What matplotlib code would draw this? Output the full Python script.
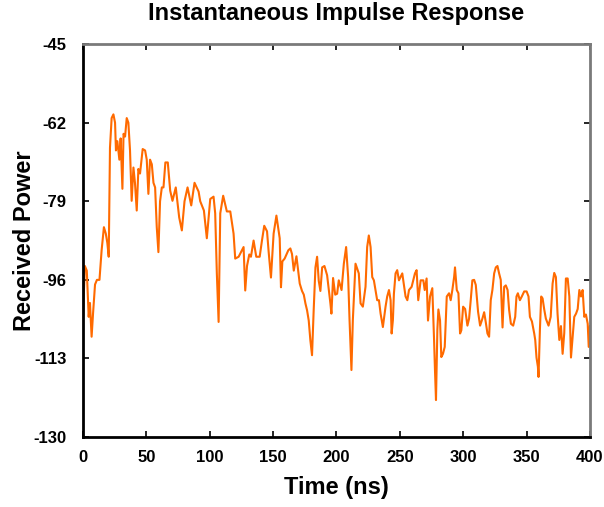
import matplotlib
matplotlib.use("Agg")
import matplotlib.pyplot as plt

plt.rcParams['font.family'] = ['Liberation Sans', 'DejaVu Sans']
plt.rcParams['axes.unicode_minus'] = False

title = "Instantaneous Impulse Response"
x_label = "Time (ns)"
y_label = "Received Power"
x_ticks = [0, 50, 100, 150, 200, 250, 300, 350, 400]
y_ticks = [-130, -113, -96, -79, -62, -45]

time_ns = [
    0, 1.5, 3, 4.5, 5.5, 6.8, 8, 9.5, 11, 13,
    14.7, 16.5, 18, 19.2, 20.3, 21.3, 22.6, 24, 25.3, 26,
    27.1, 28.7, 29.7, 31.1, 32, 33.2, 34.5, 35.8, 37.1, 38.4,
    39.8, 41, 42.4, 43.7, 45, 47.1, 49, 50.3, 51.6, 52.9,
    54.3, 55.6, 56.9, 58.2, 59.5, 60.8, 62.2, 63.5, 65, 66.9,
    68.8, 70.6, 73.2, 75.9, 78, 80.1, 82.5, 85.4, 88, 91.2,
    92.5, 95.4, 97.7, 100.4, 103, 104.3, 105.6, 107, 108.3, 110.6,
    113.5, 116.2, 118.8, 120.1, 122.8, 126.7, 128, 129.4, 131.2, 132.5,
    134.6, 136.7, 139.4, 141.2, 143, 145.2, 146.5, 148.3, 150.4, 152.6,
    155.2, 156.2, 157.3, 159.1, 162, 163.6, 164.9, 166.3, 168.4, 171,
    172.8, 174.2, 175.5, 176.8, 178.1, 179.4, 180.7, 182, 183.4, 184.7,
    186, 187.3, 188.7, 190.5, 192.6, 195.2, 196, 197.3, 199, 200.5,
    201.8, 204, 205.8, 207.6, 209.2, 210.3, 211.8, 212.9, 215, 217.6,
    219, 220.8, 222.9, 224.2, 225.5, 226.9, 228.2, 229.5, 230.8, 232.1,
    233.5, 234.8, 236.6, 238.7, 240, 241.4, 242.7, 243.5, 244.5, 245.3,
    246.6, 247.9, 249.3, 251.9, 254.5, 255.9, 257.2, 259.3, 261.9, 263.2,
    264.5, 266.4, 268.5, 269.6, 271.1, 272.2, 273.8, 275.6, 277, 277.7,
    278.5, 279.6, 280.4, 281.7, 282.7, 284, 285.4, 287, 288.8, 290.1,
    291.4, 292.8, 293.5, 294.9, 296.2, 297.5, 298.5, 299.9, 301.5, 303.3,
    304.6, 305.9, 307.2, 308.6, 309.9, 311.7, 313.3, 315.1, 316.5, 317.8,
    319.1, 320.4, 321.7, 323, 324.4, 325.7, 327, 328.3, 329.6, 331,
    332.3, 333.6, 335, 336.2, 337.6, 339.4, 341, 342, 343.1, 344.7,
    346.2, 348.1, 350, 351.5, 352.6, 354.2, 356, 356.8, 357.8, 358.9,
    359.4, 360.5, 361.5, 362.6, 363.9, 365.2, 367.3, 369, 370.5, 371.8,
    373.1, 374.4, 375.8, 377.1, 378.4, 379.7, 381, 382.4, 383.7, 385,
    386.3, 387.6, 389, 390.3, 391.6, 392.9, 394.2, 395.5, 396.8, 398.2,
    399, 400,
]

power = [
    -104, -93, -94, -104, -101, -108.3, -103, -97, -96, -96,
    -89.6, -84.6, -86, -88, -91, -67.4, -61, -60.2, -62, -68,
    -66, -70, -65.4, -76.3, -64.4, -65, -61, -62, -68, -78.9,
    -71.7, -75, -81, -72, -73, -67.7, -68, -70, -77.4, -70,
    -71, -75, -76, -84.6, -90, -79, -76, -76, -70.6, -70.6,
    -76.7, -78.9, -76, -82.5, -85.3, -79, -76, -79.9, -75, -76.9,
    -79, -81, -87, -78.5, -78, -81.6, -94.6, -105.1, -81.6, -77.8,
    -81.2, -81.2, -86, -91.4, -91, -88.9, -98.3, -93, -90.5, -91,
    -87.5, -91, -91, -87.5, -84.3, -85.5, -90, -95.5, -86, -82.1,
    -87, -97.6, -92, -91.4, -89.6, -89.2, -90.4, -94, -90.9, -96.8,
    -98.4, -99.2, -101.1, -102.6, -104.8, -109.1, -112.3, -102.6, -93.3, -91,
    -96.2, -98.4, -93.3, -93, -95, -101.1, -103.3, -95.6, -99.2, -99,
    -96.1, -98.2, -92.5, -88.9, -95.4, -104.7, -115.5, -104.7, -92.5, -94.6,
    -101.1, -101.8, -97.5, -88.9, -86.4, -88.9, -95.4, -96.1, -98.2, -100.4,
    -100.4, -103.3, -106.2, -101.8, -99.6, -98.2, -100.4, -107.6, -104.7, -99,
    -94.6, -93.9, -96.1, -94.6, -99.6, -100.4, -98.2, -97.5, -94.6, -93.9,
    -100.4, -96.1, -96.1, -98.2, -95.7, -104.8, -99.6, -97.8, -109.1, -115.5,
    -122, -106.7, -102.4, -104.8, -112.7, -112, -110.5, -99.6, -98.9, -100.4,
    -98.2, -95.4, -93.3, -98.2, -98.9, -107.6, -106.9, -101.8, -102.3, -105.9,
    -104.4, -100.4, -96.1, -96, -97.1, -102.9, -105.9, -104.4, -103, -105.2,
    -107.6, -108.3, -100.4, -98.2, -94.6, -93.3, -93, -94.6, -96, -106.3,
    -97.5, -97.2, -98.2, -102.5, -105.5, -105.9, -104, -99.6, -98.9, -100.4,
    -99.6, -98.5, -98.5, -99.6, -104, -105, -107.6, -109, -112.8, -114.8,
    -117, -106.7, -99.6, -100, -102.4, -104.4, -105.9, -104, -96.8, -94.5,
    -95.4, -103.3, -109, -106, -112, -107.5, -95.7, -95.7, -99.6, -112.8,
    -108.3, -104, -103.3, -102.3, -98.2, -99.6, -98.2, -104, -103.5, -105.5,
    -110.5, -106,
]

fig = plt.figure(figsize=(6.04, 5.07), dpi=100)
ax = fig.add_axes([0.1374, 0.138, 0.8394, 0.775])

ax.plot(time_ns, power, color='#FF6A00', linewidth=1.5)

ax.set_xlim(0, 400)
ax.set_ylim(-130, -45)
ax.set_xticks(x_ticks)
ax.set_yticks(y_ticks)
ax.set_xticklabels([str(v) for v in x_ticks], fontsize=12, fontweight='bold')
ax.set_yticklabels([str(v) for v in y_ticks], fontsize=12, fontweight='bold')
ax.tick_params(axis='both', direction='in', length=4, width=1.2,
               top=True, right=True, colors='black')
ax.tick_params(axis='x', pad=9)
ax.tick_params(axis='y', pad=12)

for side in ['left', 'bottom']:
    ax.spines[side].set_color('black')
    ax.spines[side].set_linewidth(2)
for side in ['top', 'right']:
    ax.spines[side].set_color('#7a7a7a')
    ax.spines[side].set_linewidth(2)

ax.set_title(title, fontsize=17, fontweight='bold', pad=17)
ax.set_xlabel(x_label, fontsize=17, fontweight='bold')
ax.set_ylabel(y_label, fontsize=17, fontweight='bold')
ax.yaxis.set_label_coords(-0.093, 0.5)
ax.xaxis.set_label_coords(0.5, -0.10)

fig.savefig("out.png", dpi=100)
